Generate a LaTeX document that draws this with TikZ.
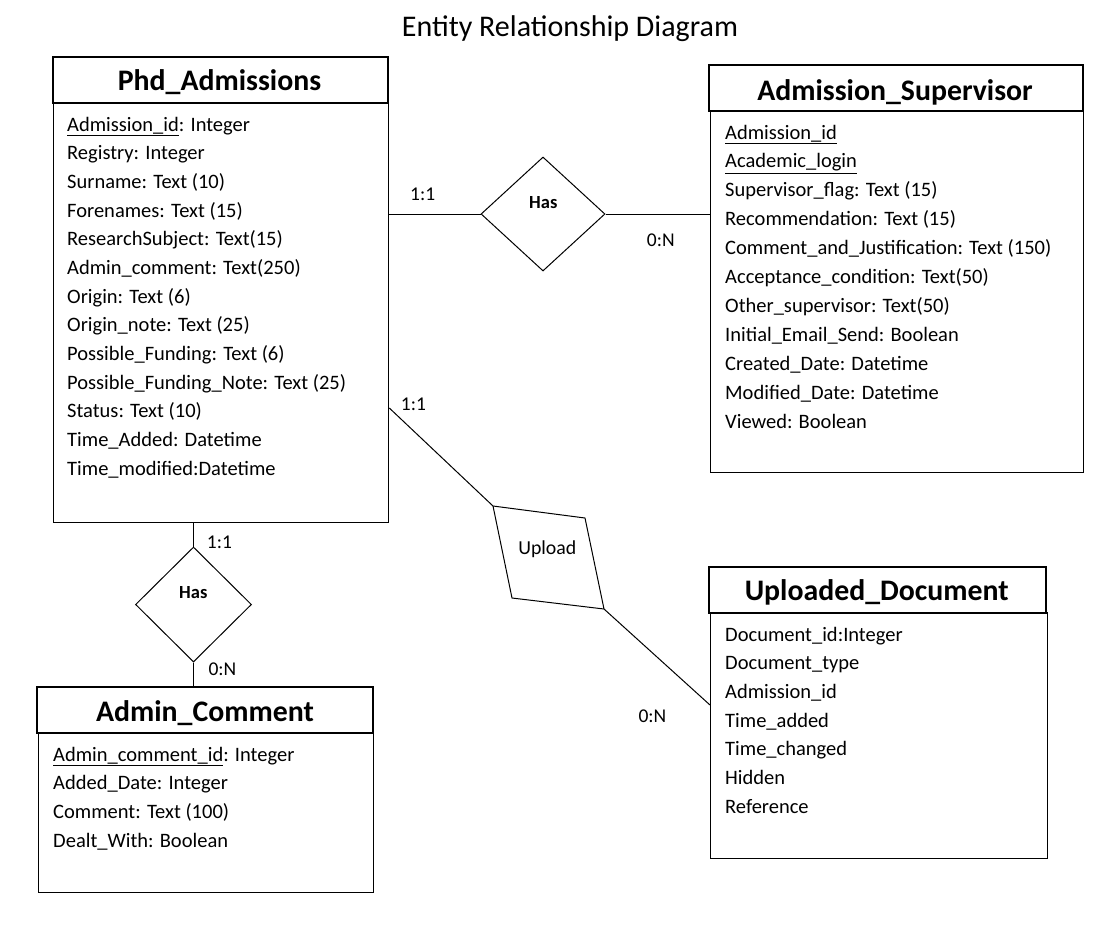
\documentclass[tikz,border=0pt]{standalone}
\usepackage{fontspec}
\setmainfont{Carlito}
\usetikzlibrary{shapes.geometric,calc}
\begin{document}
\begin{tikzpicture}[x=1pt,y=-1pt,
  hdr/.style={draw,line width=1.8pt,anchor=north west,inner sep=0pt},
  bodybox/.style={draw,line width=1.3pt,anchor=north west,inner sep=0pt},
  hdrtext/.style={anchor=base,inner sep=0pt,font=\fontsize{29.8}{30}\selectfont\bfseries},
  attr/.style={anchor=base west,inner sep=0pt,font=\fontsize{20.5}{22}\selectfont},
  card/.style={anchor=base west,inner sep=0pt,font=\fontsize{19.5}{21}\selectfont},
  rel/.style={draw,line width=1pt,shape=diamond,inner sep=0pt},
  reltext/.style={anchor=base,inner sep=0pt,font=\fontsize{18.5}{20}\selectfont\bfseries},
  conn/.style={line width=1pt}]
\useasboundingbox (0,0) rectangle (1099,943);
% title
\node[anchor=base,inner sep=0pt,font=\fontsize{30}{32}\selectfont] (title) at (570,36.7) {Entity Relationship Diagram};

% Phd_Admissions
\node[hdr,minimum width=335pt,minimum height=46pt] (pah) at (52,56) {};
\node[hdrtext] (paht) at (219.5,90.7) {Phd\_Admissions};
\node[bodybox,minimum width=335pt,minimum height=420pt] (pab) at (53,102) {};
\foreach \t [count=\i from 0] in {{\underline{Admission\_id}: Integer},{Registry: Integer},{Surname: Text (10)},{Forenames: Text (15)},{ResearchSubject: Text(15)},{Admin\_comment: Text(250)},{Origin: Text (6)},{Origin\_note: Text (25)},{Possible\_Funding: Text (6)},{Possible\_Funding\_Note: Text (25)},{Status: Text (10)},{Time\_Added: Datetime},{Time\_modified:Datetime}}
  \node[attr] (pa\i) at (67,131+28.67*\i) {\t};

% Admission_Supervisor
\node[hdr,minimum width=374pt,minimum height=46pt] (ash) at (708,64) {};
\node[hdrtext] (asht) at (895,100) {Admission\_Supervisor};
\node[bodybox,minimum width=373pt,minimum height=362pt] (asb) at (710,110) {};
\foreach \t [count=\i from 0] in {{\underline{Admission\_id}},{\underline{Academic\_login}},{Supervisor\_flag: Text (15)},{Recommendation: Text (15)},{Comment\_and\_Justification: Text (150)},{Acceptance\_condition: Text(50)},{Other\_supervisor: Text(50)},{Initial\_Email\_Send: Boolean},{Created\_Date: Datetime},{Modified\_Date: Datetime},{Viewed: Boolean}}
  \node[attr] (as\i) at (725,139+28.9*\i) {\t};

% Admin_Comment
\node[hdr,minimum width=336pt,minimum height=46pt] (ach) at (36,686) {};
\node[hdrtext] (acht) at (205,721.7) {Admin\_Comment};
\node[bodybox,minimum width=335pt,minimum height=160pt] (acb) at (38,732) {};
\foreach \t [count=\i from 0] in {{\underline{Admin\_comment\_id}: Integer},{Added\_Date: Integer},{Comment: Text (100)},{Dealt\_With: Boolean}}
  \node[attr] (ac\i) at (53,761+28.67*\i) {\t};

% Uploaded_Document
\node[hdr,minimum width=337pt,minimum height=46pt] (udh) at (708,566) {};
\node[hdrtext] (udht) at (876.7,600.7) {Uploaded\_Document};
\node[bodybox,minimum width=337pt,minimum height=246pt] (udb) at (710,612) {};
\foreach \t [count=\i from 0] in {{Document\_id:Integer},{Document\_type},{Admission\_id},{Time\_added},{Time\_changed},{Hidden},{Reference}}
  \node[attr] (ud\i) at (725,641+28.7*\i) {\t};

% Has (top)
\node[rel,minimum width=124pt,minimum height=114pt] (has1) at (543,214) {};
\node[reltext] (has1t) at (543.3,208.3) {Has};
\draw[conn] (pab.east |- has1.west) -- (has1.west);
\draw[conn] (has1.east) -- (asb.west |- has1.east);
\node[card] (c1) at (410,200) {1:1};
\node[card] (c2) at (646.7,246.7) {0:N};

% Has (bottom)
\node[rel,minimum width=116pt,minimum height=115pt] (has2) at (193.5,604.5) {};
\node[reltext] (has2t) at (193.3,598.3) {Has};
\draw[conn] (has2.north |- pab.south) -- (has2.north);
\draw[conn] (has2.south) -- (has2.south |- ach.north);
\node[card] (c3) at (206.7,548.3) {1:1};
\node[card] (c4) at (208.3,675) {0:N};

% Upload
\coordinate (u1) at (493,506);
\coordinate (u2) at (585,518);
\coordinate (u3) at (604,609);
\coordinate (u4) at (512,598);
\draw[conn] (u1) -- (u2) -- (u3) -- (u4) -- cycle;
\node[anchor=base,inner sep=0pt,font=\fontsize{19.8}{21}\selectfont] (upl) at (547.3,554) {Upload};
\coordinate (pau) at (pab.east |- 0,408);
\coordinate (udu) at (udb.west |- 0,705);
\draw[conn] (pau) -- (u1);
\draw[conn] (u3) -- (udu);
\node[card] (c5) at (400.7,410) {1:1};
\node[card] (c6) at (638.3,722.3) {0:N};
\end{tikzpicture}
\end{document}
